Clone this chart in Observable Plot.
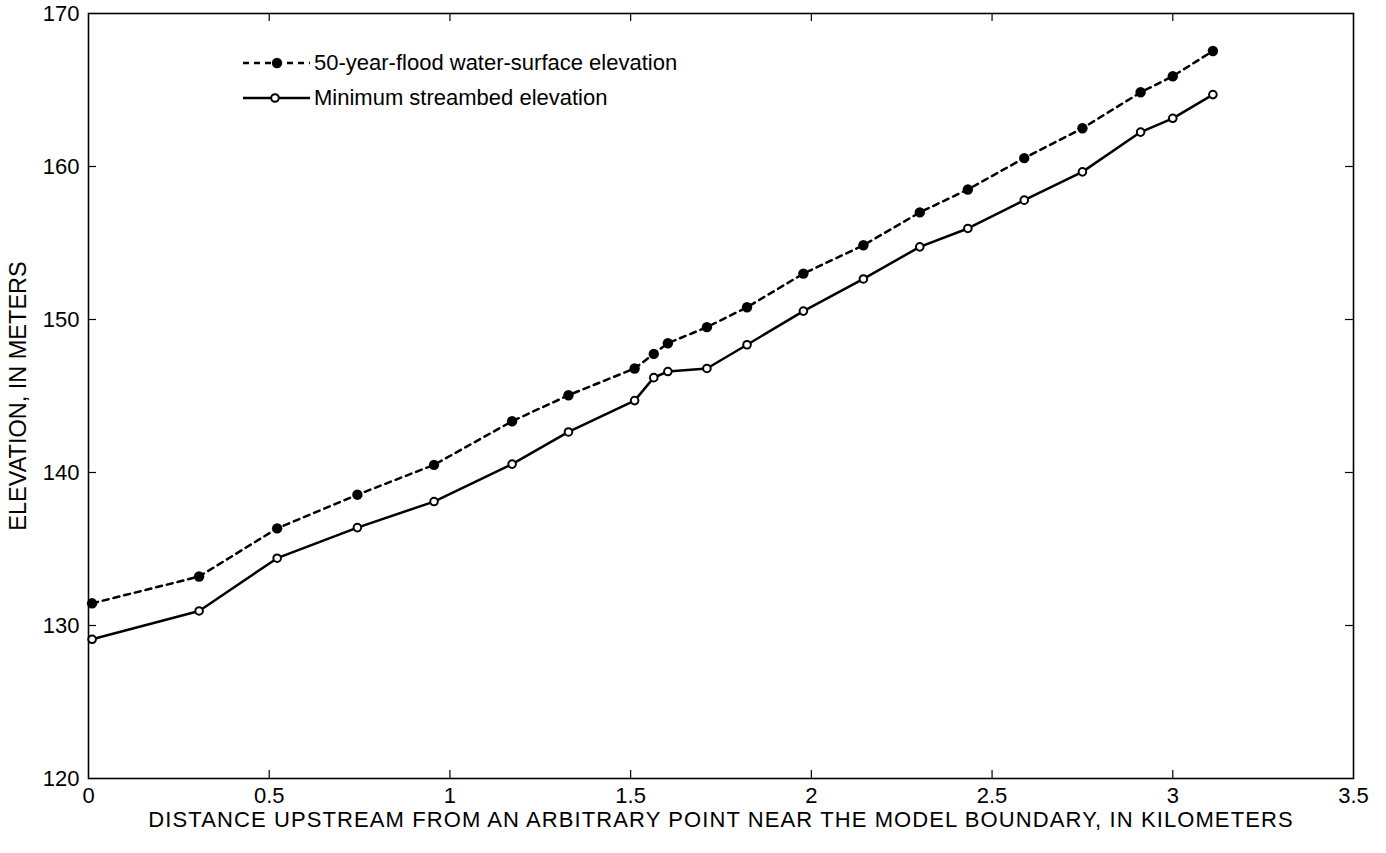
<!DOCTYPE html>
<html>
<head>
<meta charset="utf-8">
<script src="https://cdn.jsdelivr.net/npm/d3@7"></script>
<script src="https://cdn.jsdelivr.net/npm/@observablehq/plot@0.6"></script>
<style>
  html, body { margin: 0; padding: 0; background: #fff; }
  #wrap { position: relative; width: 1386px; height: 853px; font-family: "Liberation Sans", Arial, Helvetica, sans-serif; }
  #legend { position: absolute; left: 240px; top: 45px; font-size: 22px; color: #000; }
  .row { display: flex; align-items: center; height: 35px; }
  .row svg { margin-right: 2px; }
</style>
</head>
<body>
<div id="wrap"></div>
<script>
const distance = [0.01, 0.306, 0.522, 0.744, 0.956, 1.172, 1.328, 1.511, 1.564, 1.603, 1.711, 1.822, 1.978, 2.144, 2.300, 2.433, 2.589, 2.750, 2.911, 3.000, 3.111];
const floodElev = [131.45, 133.2, 136.35, 138.55, 140.5, 143.35, 145.05, 146.8, 147.75, 148.45, 149.5, 150.8, 153.0, 154.85, 157.0, 158.5, 160.55, 162.5, 164.85, 165.9, 167.55];
const streambedElev = [129.1, 130.95, 134.4, 136.4, 138.1, 140.55, 142.65, 144.7, 146.2, 146.6, 146.8, 148.35, 150.55, 152.65, 154.75, 155.95, 157.8, 159.65, 162.25, 163.15, 164.7];
const xTicks = [0, 0.5, 1, 1.5, 2, 2.5, 3, 3.5];
const yTicks = [120, 130, 140, 150, 160, 170];
const seriesNames = ["50-year-flood water-surface elevation", "Minimum streambed elevation"];
const xLabel = "DISTANCE UPSTREAM FROM AN ARBITRARY POINT NEAR THE MODEL BOUNDARY, IN KILOMETERS";
const yLabel = "ELEVATION, IN METERS";

const flood = distance.map((d, i) => ({x: d, y: floodElev[i]}));
const bed = distance.map((d, i) => ({x: d, y: streambedElev[i]}));

const W = 1386, H = 853;
const mL = 88, mR = 33, mT = 13, mB = 75;
const pw = W - mL - mR, ph = H - mT - mB;
const tl = 8;
const innerX = xTicks.slice(1, -1), innerY = yTicks.slice(1, -1);

const chart = Plot.plot({
  width: W, height: H,
  marginLeft: mL, marginRight: mR, marginTop: mT, marginBottom: mB,
  style: {fontFamily: '"Liberation Sans", Arial, Helvetica, sans-serif', fontSize: "22px", color: "#000", background: "#fff"},
  x: {domain: [0, 3.5]},
  y: {domain: [120, 170]},
  marks: [
    Plot.axisX({ticks: xTicks, tickFormat: d => String(d), tickSize: 0, tickPadding: 9, label: null, fontSize: 22}),
    Plot.axisY({ticks: yTicks, tickFormat: d => String(d), tickSize: 0, tickPadding: 9, label: null, fontSize: 22}),
    Plot.tickY(innerY, {y: d => d, insetRight: pw - tl, strokeWidth: 1.2}),
    Plot.tickY(innerY, {y: d => d, insetLeft: pw - tl, strokeWidth: 1.2}),
    Plot.tickX(innerX, {x: d => d, insetTop: ph - tl, strokeWidth: 1.2}),
    Plot.tickX(innerX, {x: d => d, insetBottom: ph - tl, strokeWidth: 1.2}),
    Plot.frame({stroke: "#000", strokeWidth: 1.6}),
    Plot.line(flood, {x: "x", y: "y", stroke: "#000", strokeWidth: 2.5, strokeDasharray: "6,5"}),
    Plot.line(bed, {x: "x", y: "y", stroke: "#000", strokeWidth: 2.5}),
    Plot.dot(flood, {x: "x", y: "y", r: 5.2, fill: "#000", stroke: "none"}),
    Plot.dot(bed, {x: "x", y: "y", r: 3.8, fill: "#fff", stroke: "#000", strokeWidth: 2}),
    Plot.text([xLabel], {frameAnchor: "bottom", lineAnchor: "middle", dy: 41, text: d => d, fontSize: 22}),
    Plot.text([yLabel], {frameAnchor: "left", dx: -70, rotate: -90, textAnchor: "middle", text: d => d, fontSize: 23.5})
  ]
});

const wrap = document.getElementById("wrap");
wrap.appendChild(chart);
chart.querySelectorAll("text").forEach(t => {
  if (t.textContent === xLabel) t.setAttribute("letter-spacing", "1.1px");
});

const legend = document.createElement("div");
legend.id = "legend";
legend.innerHTML = `
  <div class="row"><svg width="72" height="16"><line x1="3" y1="8" x2="70" y2="8" stroke="#000" stroke-width="2.5" stroke-dasharray="6,5"/><circle cx="37" cy="8" r="5.2" fill="#000"/></svg><span>${seriesNames[0]}</span></div>
  <div class="row"><svg width="72" height="16"><line x1="3" y1="8" x2="70" y2="8" stroke="#000" stroke-width="2.5"/><circle cx="35" cy="8" r="3.8" fill="#fff" stroke="#000" stroke-width="2"/></svg><span>${seriesNames[1]}</span></div>
`;
wrap.appendChild(legend);
</script>
</body>
</html>
